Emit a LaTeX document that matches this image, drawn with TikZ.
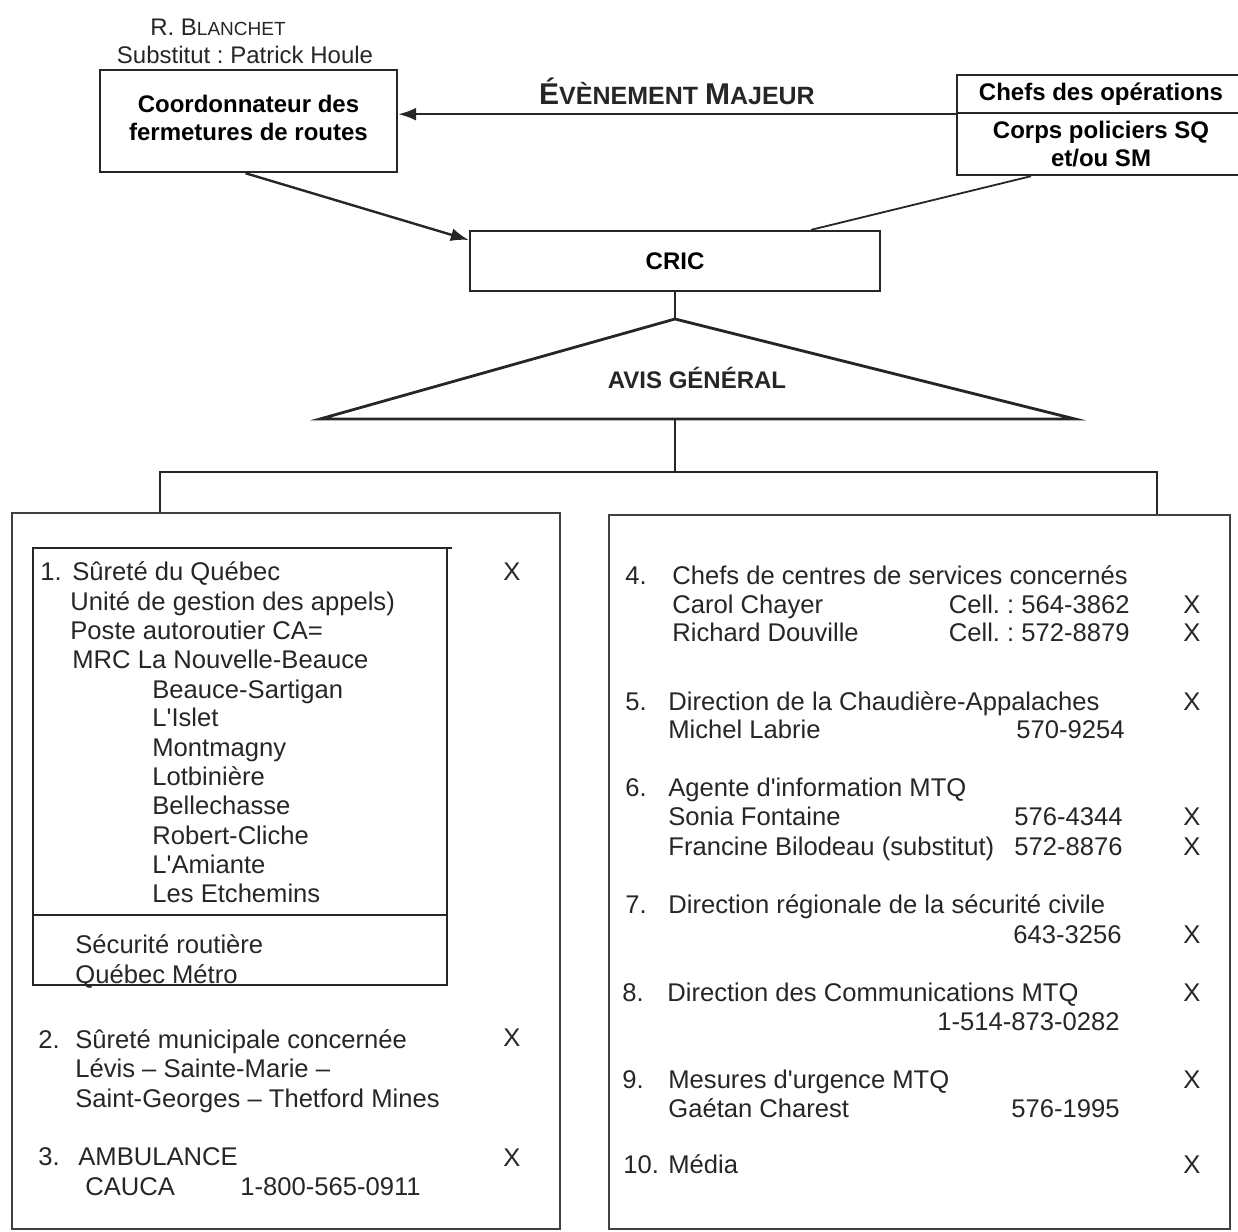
\documentclass[tikz,border=0pt]{standalone}
\usepackage{fontspec}
\setmainfont{Liberation Sans}
\usetikzlibrary{positioning,arrows.meta}
\frenchspacing

\newcommand\bodytxt{\fontsize{12.8}{14.6}\selectfont}
\newcommand\headtxt{\fontsize{12}{14.2}\selectfont\bfseries}

\tikzset{
  box/.style={draw=black!85, line width=1.2pt, align=center, font=\headtxt, inner sep=0pt},
  frame/.style={draw=black!75, line width=0.8pt},
  link/.style={draw=black!85, line width=1.2pt},
  item/.style={anchor=base west, inner sep=0pt, font=\bodytxt, text=black!85},
  num/.style={anchor=base east, inner sep=0pt, font=\bodytxt, text=black!85},
  chk/.style={anchor=base, inner sep=0pt, font=\bodytxt, text=black!85},
}

\begin{document}
\begin{tikzpicture}[x=0.5pt,y=-0.5pt,>={Latex[length=9pt,width=6.5pt]}]
  \useasboundingbox (0,0) rectangle (1238,1232);

  % haut du schema
  \node[anchor=base, inner sep=0pt, text=black!85] (resp) at (218,35)
    {\fontsize{12}{14}\selectfont R. B\fontsize{9.5}{12}\selectfont LANCHET};
  \node[anchor=base, inner sep=0pt, text=black!85, font=\fontsize{12}{14}\selectfont] (subst) at (245,63)
    {Substitut : Patrick Houle};
  \node[box, minimum width=148.5pt, minimum height=51pt] (coord) at (248.5,121)
    {Coordonnateur des\\fermetures de routes\\[-11.2pt]\mbox{}};
  \node[box, minimum width=144pt, minimum height=19pt] (chefs) at (1101,94)
    {Chefs des opérations};
  \node[box, minimum width=144pt, minimum height=31pt] (corps) at (1101,144)
    {Corps policiers SQ\\et/ou SM};
  \node[box, minimum width=205pt, minimum height=30pt] (cric) at (675,261) {CRIC};

  \draw[link,->] (chefs.south west) -- node[above=1pt, text=black!85]
    {\bfseries\fontsize{15}{16}\selectfont É\fontsize{12.5}{14}\selectfont VÈNEMENT
     \fontsize{15}{16}\selectfont M\fontsize{12.5}{14}\selectfont AJEUR}
    (coord.east |- chefs.south west);
  \draw[link,->] ([xshift=-1.5pt]coord.south) -- ([yshift=10.5pt]cric.west);
  \draw[link, line width=0.9pt] ([xshift=-35pt]corps.south) -- ([xshift=-35pt]cric.north east);

  % avis general
  \coordinate (apex) at (675,319);
  \coordinate (base) at (675,419);
  \draw[link, line width=1.4pt, line join=miter] (320,419) -- (apex) -- (1075,419) -- cycle;
  \node[inner sep=0pt, font=\headtxt, text=black!85] (avis) at (697,378) {AVIS GÉNÉRAL};
  \draw[link] (cric.south) -- (apex);

  \coordinate (gauche) at (160,513);
  \coordinate (droite) at (1157,515);
  \draw[link, line width=1.4pt] (base) -- (675,472);
  \draw[link, line width=1.4pt] (gauche) -- (160,472) -- (1157,472) -- (droite);

  % cadres
  \draw[frame] (12,513) rectangle (560,1229);
  \draw[frame] (609,515) rectangle (1230,1229);
  \draw[draw=black!85, line width=1.1pt] (452,548) -- (33,548) -- (33,985) -- (447,985) -- (447,548);
  \draw[draw=black!85, line width=1.1pt] (33,915) -- (447,915);

  % colonne de gauche
  \node[item] (n1) at (40,580) {1.};
  \node[item] (s1) at (72,580) {Sûreté du Québec};
  \node[item] (s1a) at (70,610) {Unité de gestion des appels)};
  \node[item] (s1b) at (70,639) {Poste autoroutier CA=};
  \node[item] (s1c) at (72,668) {MRC La Nouvelle-Beauce};
  \foreach \yy/\lbl [count=\i] in {698/Beauce-Sartigan, 726/L\textquotesingle Islet, 756/Montmagny,
      785/Lotbinière, 814/Bellechasse, 844/Robert-Cliche, 873/L\textquotesingle Amiante, 902/Les Etchemins}
    \node[item] (mrc\i) at (152,\yy) {\lbl};
  \node[item] (sr1) at (75,953) {Sécurité routière};
  \node[item] (sr2) at (75,983) {Québec Métro};

  \node[item] (n2) at (38,1048) {2.};
  \node[item] (s2) at (75,1048) {Sûreté municipale concernée};
  \node[item] (s2a) at (75,1077) {Lévis – Sainte-Marie –};
  \node[item] (s2b) at (75,1107) {Saint-Georges – Thetford Mines};

  \node[item] (n3) at (38,1165) {3.};
  \node[item] (s3) at (78,1165) {AMBULANCE};
  \node[item] (s3a) at (85,1195) {CAUCA};
  \node[item] (s3b) at (240,1195) {1-800-565-0911};

  \foreach \yy [count=\i] in {580,1046,1166}
    \node[chk] (xg\i) at (512,\yy) {X};

  % colonne de droite
  \node[item] (n4) at (625,584) {4.};
  \node[item] (s4) at (672,584) {Chefs de centres de services concernés};
  \node[item] (s4a) at (672,613) {Carol Chayer};
  \node[item] (s4b) at (672,641) {Richard Douville};
  \node[num] (t4a) at (1130,613) {Cell. : 564-3862};
  \node[num] (t4b) at (1130,641) {Cell. : 572-8879};

  \node[item] (n5) at (625,710) {5.};
  \node[item] (s5) at (668,710) {Direction de la Chaudière-Appalaches};
  \node[item] (s5a) at (668,738) {Michel Labrie};
  \node[num] (t5) at (1125,738) {570-9254};

  \node[item] (n6) at (625,796) {6.};
  \node[item] (s6) at (668,796) {Agente d\textquotesingle information MTQ};
  \node[item] (s6a) at (668,825) {Sonia Fontaine};
  \node[item] (s6b) at (668,855) {Francine Bilodeau (substitut)};
  \node[num] (t6a) at (1123,825) {576-4344};
  \node[num] (t6b) at (1123,855) {572-8876};

  \node[item] (n7) at (625,913) {7.};
  \node[item] (s7) at (668,913) {Direction régionale de la sécurité civile};
  \node[num] (t7) at (1122,943) {643-3256};

  \node[item] (n8) at (622,1001) {8.};
  \node[item] (s8) at (667,1001) {Direction des Communications MTQ};
  \node[num] (t8) at (1120,1030) {1-514-873-0282};

  \node[item] (n9) at (622,1088) {9.};
  \node[item] (s9) at (668,1088) {Mesures d\textquotesingle urgence MTQ};
  \node[item] (s9a) at (668,1117) {Gaétan Charest};
  \node[num] (t9) at (1120,1117) {576-1995};

  \node[item] (n10) at (623,1173) {10.};
  \node[item] (s10) at (668,1173) {Média};

  \foreach \yy [count=\i] in {613,641,710,825,855,943,1001,1088,1173}
    \node[chk] (xd\i) at (1192,\yy) {X};
\end{tikzpicture}
\end{document}
